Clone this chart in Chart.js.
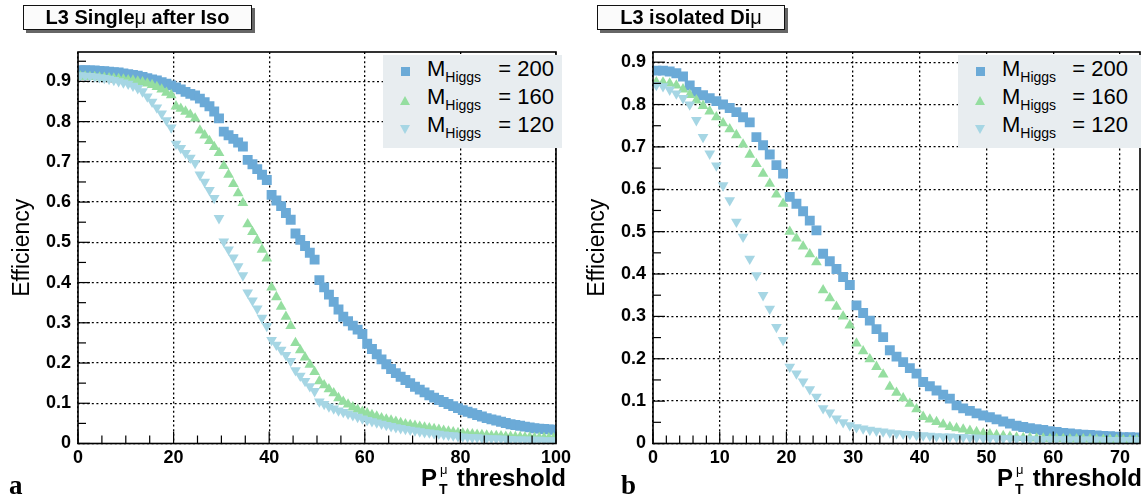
<!DOCTYPE html>
<html>
<head>
<meta charset="utf-8">
<script src="https://cdn.jsdelivr.net/npm/chart.js@4.4.0/dist/chart.umd.min.js"></script>
<style>
  body { margin:0; width:1147px; height:500px; background:#fff; position:relative; overflow:hidden;
         font-family:"Liberation Sans", Arial, Helvetica, sans-serif; color:#000; }
  canvas { position:absolute; top:0; }
  .titlebox { position:absolute; top:5px; height:23px; border:1px solid #111; background:#fbfbfb;
              box-shadow:3px 3px 0 #666; font-weight:bold; font-size:20px; line-height:23px; text-align:center; white-space:nowrap; }
  .titlebox .mu { font-weight:normal; }
  .legend { position:absolute; top:55px; height:93px; background:#e8edf0; }
  .legend .row { position:absolute; left:0; right:0; font-size:22px; line-height:22px; height:28px; }
  .legend .m { position:absolute; left:44px; }
  .legend .m span { font-size:14px; position:relative; top:6px; }
  .legend .v { position:absolute; right:8px; }
  .mk { position:absolute; width:0; height:0; }
  .sq { width:9px; height:9px; background:#6baad7; }
  .up { border-left:5px solid transparent; border-right:5px solid transparent; border-bottom:9px solid #95dea0; }
  .dn { border-left:5px solid transparent; border-right:5px solid transparent; border-top:9px solid #a6d6e4; }
  .xt { position:absolute; top:465px; font-weight:bold; font-size:24px; line-height:26px; white-space:nowrap; text-align:right; }
  .st { display:inline-block; position:relative; width:13px; height:20px; }
  .st i { position:absolute; left:3px; top:-9px; font-size:13px; font-style:normal; font-weight:normal; }
  .st b { position:absolute; left:2px; top:10px; font-size:14px; }
  .tag { position:absolute; top:470px; font-family:"Liberation Serif", "Times New Roman", serif; font-weight:bold; font-size:27px; }
</style>
</head>
<body>
<canvas id="chartA" width="575" height="500" style="left:0"></canvas>
<canvas id="chartB" width="572" height="500" style="left:575px"></canvas>

<div class="titlebox" style="left:23px;width:227px">L3 Single<span class="mu">μ</span> after Iso</div>
<div class="titlebox" style="left:597px;width:186px">L3 isolated Di<span class="mu">μ</span></div>

<div class="legend" style="left:383px;width:179px">
  <div class="mk sq" style="left:18px;top:12px"></div>
  <div class="mk up" style="left:17px;top:41px"></div>
  <div class="mk dn" style="left:17px;top:70px"></div>
  <div class="row" style="top:3px"><span class="m">M<span>Higgs</span></span><span class="v">= 200</span></div>
  <div class="row" style="top:31px"><span class="m">M<span>Higgs</span></span><span class="v">= 160</span></div>
  <div class="row" style="top:59px"><span class="m">M<span>Higgs</span></span><span class="v">= 120</span></div>
</div>
<div class="legend" style="left:958px;width:183px">
  <div class="mk sq" style="left:18px;top:12px"></div>
  <div class="mk up" style="left:17px;top:41px"></div>
  <div class="mk dn" style="left:17px;top:70px"></div>
  <div class="row" style="top:3px"><span class="m">M<span>Higgs</span></span><span class="v" style="right:13px">= 200</span></div>
  <div class="row" style="top:31px"><span class="m">M<span>Higgs</span></span><span class="v" style="right:13px">= 160</span></div>
  <div class="row" style="top:59px"><span class="m">M<span>Higgs</span></span><span class="v" style="right:13px">= 120</span></div>
</div>

<div class="xt" style="right:581px">P<span class="st"><i>μ</i><b>T</b></span> threshold</div>
<div class="xt" style="right:5px">P<span class="st"><i>μ</i><b>T</b></span> threshold</div>
<div class="tag" style="left:9px">a</div>
<div class="tag" style="left:621px">b</div>

<script>
// efficiency vs muon pT threshold, 1 GeV bins
const massLabels = ['200', '160', '120'];
const colours = ['#6baad7', '#95dea0', '#a6d6e4'];

// L3 single muon after isolation, 0-100 GeV
const effA200 = [0.928,0.928,0.927,0.927,0.926, 0.925,0.924,0.923,0.922,0.920,
  0.918,0.916,0.914,0.911,0.908, 0.905,0.902,0.898,0.894,0.890,
  0.885,0.880,0.874,0.869,0.865, 0.857,0.848,0.838,0.825,0.808,
  0.775,0.766,0.757,0.748,0.738, 0.705,0.694,0.682,0.668,0.655,
  0.618,0.604,0.590,0.573,0.556, 0.522,0.506,0.491,0.474,0.457,
  0.406,0.388,0.370,0.352,0.333, 0.315,0.304,0.293,0.283,0.272,
  0.248,0.235,0.222,0.209,0.197, 0.185,0.175,0.166,0.158,0.150,
  0.141,0.134,0.127,0.120,0.114, 0.108,0.103,0.098,0.093,0.088,
  0.083,0.079,0.075,0.071,0.067, 0.063,0.060,0.057,0.054,0.051,
  0.048,0.046,0.044,0.042,0.040, 0.038,0.037,0.036,0.035,0.034];
const effA160 = [0.912,0.912,0.911,0.911,0.910, 0.909,0.908,0.907,0.906,0.905,
  0.903,0.902,0.900,0.898,0.895, 0.891,0.886,0.880,0.872,0.866,
  0.838,0.832,0.825,0.817,0.808, 0.778,0.766,0.752,0.737,0.722,
  0.690,0.668,0.645,0.622,0.598, 0.545,0.526,0.505,0.482,0.460,
  0.388,0.364,0.340,0.315,0.292, 0.250,0.232,0.214,0.196,0.178,
  0.155,0.145,0.135,0.125,0.113, 0.104,0.097,0.090,0.084,0.079,
  0.075,0.071,0.067,0.063,0.060, 0.057,0.054,0.051,0.048,0.046,
  0.044,0.042,0.040,0.038,0.036, 0.034,0.032,0.030,0.028,0.026,
  0.025,0.024,0.023,0.022,0.021, 0.020,0.019,0.019,0.018,0.017,
  0.017,0.016,0.016,0.015,0.015, 0.014,0.014,0.014,0.013,0.013];
const effA120 = [0.915,0.914,0.913,0.912,0.910, 0.908,0.906,0.903,0.900,0.897,
  0.894,0.889,0.883,0.875,0.862, 0.849,0.835,0.820,0.803,0.785,
  0.745,0.734,0.722,0.710,0.697, 0.668,0.650,0.630,0.610,0.560,
  0.502,0.482,0.462,0.440,0.418, 0.375,0.355,0.335,0.312,0.292,
  0.257,0.245,0.233,0.220,0.205, 0.182,0.168,0.155,0.142,0.130,
  0.104,0.098,0.092,0.087,0.082, 0.078,0.074,0.070,0.066,0.062,
  0.058,0.055,0.052,0.049,0.046, 0.043,0.040,0.038,0.036,0.034,
  0.032,0.030,0.028,0.027,0.025, 0.024,0.022,0.021,0.020,0.018,
  0.017,0.016,0.015,0.015,0.014, 0.013,0.013,0.012,0.012,0.011,
  0.011,0.010,0.010,0.010,0.009, 0.009,0.009,0.008,0.008,0.008];

// L3 isolated dimuon, 0-73 GeV
const effB200 = [0.880,0.880,0.878,0.874,0.866, 0.845,0.830,0.822,0.815,0.808,
  0.800,0.792,0.782,0.770,0.758, 0.723,0.704,0.682,0.657,0.637,
  0.582,0.566,0.548,0.526,0.503, 0.448,0.430,0.412,0.393,0.374,
  0.326,0.308,0.290,0.270,0.251, 0.220,0.205,0.192,0.178,0.165,
  0.145,0.135,0.125,0.115,0.106, 0.090,0.083,0.077,0.071,0.066,
  0.062,0.057,0.052,0.047,0.042, 0.039,0.036,0.034,0.032,0.029,
  0.027,0.025,0.024,0.022,0.021, 0.020,0.019,0.018,0.017,0.016,
  0.015,0.015,0.014];
const effB160 = [0.853,0.852,0.850,0.845,0.836, 0.823,0.810,0.797,0.784,0.770,
  0.756,0.742,0.728,0.706,0.682, 0.660,0.637,0.613,0.588,0.566,
  0.500,0.484,0.465,0.447,0.428, 0.362,0.343,0.323,0.300,0.279,
  0.236,0.218,0.199,0.181,0.163, 0.134,0.120,0.107,0.094,0.081,
  0.063,0.057,0.051,0.045,0.039, 0.036,0.033,0.030,0.027,0.024,
  0.022,0.020,0.018,0.016,0.014, 0.013,0.013,0.012,0.012,0.011,
  0.011,0.011,0.010,0.010,0.010, 0.010,0.009,0.009,0.009,0.009,
  0.008,0.008,0.008];
const effB120 = [0.846,0.843,0.835,0.826,0.815, 0.800,0.763,0.723,0.684,0.656,
  0.609,0.574,0.523,0.488,0.436, 0.397,0.350,0.318,0.275,0.244,
  0.181,0.165,0.146,0.128,0.110, 0.083,0.073,0.059,0.050,0.043,
  0.038,0.035,0.032,0.030,0.028, 0.026,0.024,0.023,0.022,0.020,
  0.019,0.018,0.017,0.016,0.016, 0.015,0.015,0.014,0.014,0.013,
  0.013,0.012,0.012,0.012,0.011, 0.011,0.011,0.010,0.010,0.010,
  0.010,0.010,0.009,0.009,0.009, 0.009,0.009,0.008,0.008,0.008,
  0.008,0.008,0.008];

const FONT = '"Liberation Sans", Arial, Helvetica, sans-serif';

// ROOT-style frame with inward major/minor ticks
const frameTicks = {
  id: 'frameTicks',
  afterDatasetsDraw(chart, args, opts) {
    const {ctx, chartArea: a, scales: {x, y}} = chart;
    ctx.save();
    ctx.strokeStyle = '#000';
    ctx.lineWidth = 1.2;
    for (let v = x.min; v <= x.max + 1e-9; v += opts.xMinor) {
      const n = v / opts.xMajor;
      const len = Math.abs(n - Math.round(n)) < 1e-6 ? 12 : 8;
      const px = x.getPixelForValue(v);
      ctx.beginPath(); ctx.moveTo(px, a.bottom); ctx.lineTo(px, a.bottom - len); ctx.stroke();
    }
    for (let v = 0; v <= y.max + 1e-9; v += 0.05) {
      const n = v / 0.1;
      const len = Math.abs(n - Math.round(n)) < 1e-6 ? 12 : 8;
      const py = y.getPixelForValue(v);
      ctx.beginPath(); ctx.moveTo(a.left, py); ctx.lineTo(a.left + len, py); ctx.stroke();
    }
    ctx.lineWidth = 1.6;
    ctx.strokeRect(a.left, a.top, a.right - a.left, a.bottom - a.top);
    ctx.restore();
  }
};

function points(vals) {
  return vals.map((v, i) => ({x: i + 0.5, y: v}));
}

function makePanel(id, series, xMax, xStep, xMinor, yMax) {
  const styles = ['rect', 'triangle', 'triangle'];
  const radii = [7, 6.2, 6.2];
  const rot = [0, 0, 180];
  const datasets = series.map((vals, k) => ({
    label: 'M_Higgs = ' + massLabels[k],
    data: points(vals),
    showLine: false,
    pointStyle: styles[k],
    pointRadius: radii[k],
    pointRotation: rot[k],
    pointBackgroundColor: colours[k],
    pointBorderWidth: 0,
    order: [2, 1, 0][k]
  }));
  return new Chart(document.getElementById(id), {
    type: 'scatter',
    data: {datasets},
    plugins: [frameTicks],
    options: {
      responsive: false,
      animation: false,
      events: [],
      layout: {padding: {left: 0, top: 52, right: 6, bottom: 0}},
      plugins: {legend: {display: false}, tooltip: {enabled: false}, frameTicks: {xMajor: xStep, xMinor}},
      scales: {
        x: {
          type: 'linear', min: 0, max: xMax,
          afterFit: s => { s.height = 56.5; },
          grid: {color: '#000', lineWidth: 1.3, drawTicks: false},
          border: {display: false, dash: [2, 2.6]},
          ticks: {stepSize: xStep, includeBounds: false, padding: 4, color: '#000', maxRotation: 0, autoSkip: false,
                  font: {family: FONT, size: 18, weight: 'bold'}}
        },
        y: {
          min: 0, max: yMax,
          afterFit: s => { s.width = 78; },
          grid: {color: '#000', lineWidth: 1.3, drawTicks: false},
          border: {display: false, dash: [2, 2.6]},
          title: {display: true, text: 'Efficiency', color: '#000', padding: {top: 9, bottom: 0},
                  font: {family: FONT, size: 23}},
          ticks: {stepSize: 0.1, includeBounds: false, padding: 7, color: '#000',
                  font: {family: FONT, size: 18, weight: 'bold'},
                  callback: v => (v === 0 ? '0' : v.toFixed(1))}
        }
      }
    }
  });
}

makePanel('chartA', [effA200, effA160, effA120], 100, 20, 5, 0.973);
makePanel('chartB', [effB200, effB160, effB120], 73, 10, 2, 0.924);
</script>
</body>
</html>
